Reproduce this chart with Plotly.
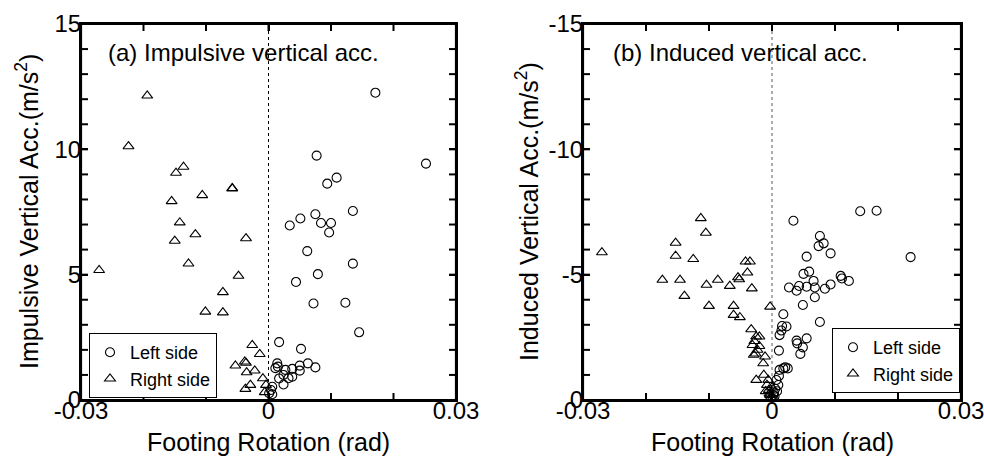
import plotly.graph_objects as go

# ---- data -------------------------------------------------------------
# (a) impulsive vertical acceleration vs footing rotation
a_left_rot = [0.0171, 0.0252, 0.0077, 0.0109, 0.0094, 0.0135, 0.0075, 0.0051, 0.0034,
              0.0084, 0.0100, 0.0097, 0.0062, 0.0135, 0.0079, 0.0044, 0.0072, 0.0123,
              0.0145, 0.0017, 0.0052, 0.0075, 0.0063, 0.0050, 0.0038, 0.0050, 0.0027,
              0.0014, 0.0015, 0.0011, 0.0024, 0.0038, 0.0032, 0.0017, 0.0024, 0.0006,
              0.0004, 0.0006, 0.0001]
a_left_acc = [12.26, 9.43, 9.75, 8.87, 8.63, 7.54, 7.41, 7.24, 6.96,
              7.06, 7.06, 6.68, 5.94, 5.44, 5.02, 4.71, 3.85, 3.88,
              2.70, 2.31, 2.04, 1.30, 1.46, 1.37, 1.24, 1.17, 1.20,
              1.46, 1.33, 1.27, 1.00, 0.93, 0.87, 0.86, 0.62, 0.53,
              0.40, 0.23, 0.27]
a_right_rot = [-0.0194, -0.0224, -0.0271, -0.0136, -0.0148, -0.0058, -0.0058, -0.0106,
               -0.0155, -0.0142, -0.0117, -0.0150, -0.0036, -0.0128, -0.0048, -0.0073,
               -0.0101, -0.0073, -0.0096, -0.0026, -0.0014, -0.0053, -0.0038, -0.0036,
               -0.0035, -0.0022, -0.0009, -0.0029, -0.0037, -0.0006, -0.0004]
a_right_acc = [12.14, 10.12, 5.18, 9.30, 9.06, 8.43, 8.45, 8.17,
               7.93, 7.08, 6.61, 6.35, 6.45, 5.44, 4.95, 4.30,
               3.52, 3.49, 1.99, 2.19, 1.83, 1.37, 1.53, 1.48,
               1.10, 1.17, 0.86, 0.60, 0.44, 0.31, 0.60]

# (b) induced vertical acceleration vs footing rotation
b_left_rot = [0.0220, 0.0140, 0.0166, 0.0034, 0.0076, 0.0082, 0.0074, 0.0093, 0.0055,
              0.0059, 0.0050, 0.0109, 0.0111, 0.0122, 0.0066, 0.0093, 0.0084, 0.0068,
              0.0055, 0.0043, 0.0027, 0.0039, 0.0068, 0.0049, 0.0076, 0.0018, 0.0016,
              0.0023, 0.0015, 0.0012, 0.0039, 0.0040, 0.0055, 0.0049, 0.0045, 0.0011,
              0.0018, 0.0025, 0.0021, 0.0012, 0.0011, 0.0007, 0.0010, 0.0005, 0.0003,
              0.0008, 0.0002, 0.0004, 0.0001]
b_left_acc = [-5.70, -7.53, -7.55, -7.15, -6.54, -6.25, -6.14, -5.85, -5.72,
              -5.12, -5.03, -4.95, -4.85, -4.75, -4.75, -4.61, -4.44, -4.49,
              -4.52, -4.55, -4.49, -4.36, -4.10, -3.79, -3.11, -3.42, -2.95,
              -2.93, -2.77, -2.59, -2.37, -2.26, -2.46, -2.10, -1.84, -1.97,
              -1.26, -1.26, -1.30, -1.20, -0.96, -0.80, -0.60, -0.45, -0.30,
              -0.35, -0.20, -0.15, -0.05]
b_right_rot = [-0.0270, -0.0113, -0.0105, -0.0153, -0.0153, -0.0125, -0.0174, -0.0146,
               -0.0139, -0.0104, -0.0086, -0.0100, -0.0067, -0.0054, -0.0052, -0.0042,
               -0.0035, -0.0039, -0.0032, -0.0003, -0.0061, -0.0061, -0.0051, -0.0033,
               -0.0025, -0.0020, -0.0031, -0.0020, -0.0029, -0.0011, -0.0014, -0.0025,
               -0.0013, -0.0028, -0.0023, -0.0026, -0.0008, -0.0005, -0.0003, -0.0006,
               0.0000, -0.0002, -0.0010, -0.0004]
b_right_acc = [-5.89, -7.25, -6.67, -6.27, -5.75, -5.62, -4.79, -4.79,
               -4.15, -4.59, -4.79, -3.75, -4.55, -4.89, -4.81, -5.52,
               -5.52, -5.08, -4.45, -3.72, -3.75, -3.39, -3.30, -2.82,
               -2.53, -2.53, -2.19, -2.15, -1.80, -1.73, -1.46, -0.80,
               -1.00, -2.35, -2.00, -1.85, -0.60, -0.40, -0.20, -0.80,
               -0.50, -0.10, -0.35, -0.25]

x_tickvals = [-0.03, 0, 0.03]
x_ticktext = ["-0.03", "0", "0.03"]
a_tickvals = [0, 5, 10, 15]
a_ticktext = ["0", "5", "10", "15"]
b_tickvals = [0, -5, -10, -15]
b_ticktext = ["0", "-5", "-10", "-15"]

# ---- styling ----------------------------------------------------------
W, H = 984, 456
FONT = "Liberation Sans, Arial, sans-serif"
TICK_LEN = 7
px_x = lambda p: p / W
px_y = lambda p: 1 - p / H

circle = dict(symbol="circle-open", size=9, color="black", line=dict(width=1.1))
triangle = dict(symbol="triangle-up-open", size=9.5, color="black", line=dict(width=1.1))

fig = go.Figure()
fig.add_trace(go.Scatter(x=a_left_rot, y=a_left_acc, mode="markers", marker=circle,
                         name="Left side", xaxis="x", yaxis="y", legend="legend"))
fig.add_trace(go.Scatter(x=a_right_rot, y=a_right_acc, mode="markers", marker=triangle,
                         name="Right side", xaxis="x", yaxis="y", legend="legend"))
fig.add_trace(go.Scatter(x=b_left_rot, y=b_left_acc, mode="markers", marker=circle,
                         name="Left side", xaxis="x2", yaxis="y2", legend="legend2"))
fig.add_trace(go.Scatter(x=b_right_rot, y=b_right_acc, mode="markers", marker=triangle,
                         name="Right side", xaxis="x2", yaxis="y2", legend="legend2"))

tick_style = dict(ticks="inside", ticklen=TICK_LEN, tickwidth=2, tickcolor="black")
frame = dict(showline=True, linewidth=2, linecolor="black", mirror="ticks",
             showgrid=False, zeroline=False, automargin=False,
             ticklabeloverflow="allow",
             tickfont=dict(family=FONT, size=24, color="black"), **tick_style)

y_dom = [px_y(400), px_y(24)]

fig.update_layout(
    template="none",
    width=W, height=H,
    margin=dict(l=0, r=0, t=0, b=0, autoexpand=False),
    paper_bgcolor="white", plot_bgcolor="white",
    font=dict(family=FONT, color="black"),
    xaxis=dict(frame, domain=[px_x(81), px_x(456)], range=[-0.03, 0.03],
               tickmode="array", tickvals=x_tickvals, ticktext=x_ticktext,
               ticklabelstandoff=-12, anchor="y"),
    yaxis=dict(frame, domain=y_dom, range=[0, 15],
               tickmode="array", tickvals=a_tickvals, ticktext=a_ticktext,
               ticklabelstandoff=-7, anchor="x"),
    xaxis2=dict(frame, domain=[px_x(583), px_x(961)], range=[-0.03, 0.03],
                tickmode="array", tickvals=x_tickvals, ticktext=x_ticktext,
                ticklabelstandoff=-12, anchor="y2"),
    yaxis2=dict(frame, domain=y_dom, range=[0, -15],
                tickmode="array", tickvals=b_tickvals, ticktext=b_ticktext,
                ticklabelstandoff=-7, anchor="x2"),
    legend=dict(x=px_x(89), y=px_y(333), xanchor="left", yanchor="top",
                bgcolor="white", bordercolor="black", borderwidth=1,
                font=dict(family=FONT, size=18, color="black"),
                itemwidth=30, tracegroupgap=0),
    legend2=dict(x=px_x(832), y=px_y(328), xanchor="left", yanchor="top",
                 bgcolor="white", bordercolor="black", borderwidth=1,
                 font=dict(family=FONT, size=18, color="black"),
                 itemwidth=30, tracegroupgap=0),
    showlegend=True,
)

# plot frames, inward tick marks on all four sides, zero-rotation guide lines
x_marks = [round(-0.03 + 0.01 * i, 3) for i in range(7)]
ya_marks = list(range(0, 16))
yb_marks = list(range(0, -16, -1))
tick_line = dict(color="black", width=2)

for xr, yr, y_marks in (("x", "y", ya_marks), ("x2", "y2", yb_marks)):
    fig.add_shape(type="rect", xref=f"{xr} domain", yref=f"{yr} domain",
                  x0=0, x1=1, y0=0, y1=1, line=dict(color="black", width=2.2),
                  layer="above")
    for v in x_marks:
        for anchor, sign in ((0, 1), (1, -1)):
            fig.add_shape(type="line", xref=xr, yref=f"{yr} domain",
                          ysizemode="pixel", yanchor=anchor,
                          x0=v, x1=v, y0=0, y1=sign * TICK_LEN, line=tick_line)
    for v in y_marks:
        for anchor, sign in ((0, 1), (1, -1)):
            fig.add_shape(type="line", xref=f"{xr} domain", yref=yr,
                          xsizemode="pixel", xanchor=anchor,
                          x0=0, x1=sign * TICK_LEN, y0=v, y1=v, line=tick_line)

fig.add_shape(type="line", xref="x", yref="y domain", x0=0, x1=0, y0=0, y1=1,
              line=dict(color="black", width=1, dash="dot"), layer="below")
fig.add_shape(type="line", xref="x2", yref="y2 domain", x0=0, x1=0, y0=0, y1=1,
              line=dict(color="#777777", width=1.2, dash="dot"), layer="below")

# panel captions and axis titles
ann = [
    dict(text="(a) Impulsive vertical acc.", x=px_x(106), y=px_y(53), size=24,
         xanchor="left", angle=0),
    dict(text="(b) Induced vertical acc.", x=px_x(611), y=px_y(53), size=24,
         xanchor="left", angle=0),
    dict(text="Footing Rotation (rad)", x=px_x(268), y=px_y(442), size=25,
         xanchor="center", angle=0),
    dict(text="Footing Rotation (rad)", x=px_x(772), y=px_y(442), size=25,
         xanchor="center", angle=0),
    dict(text="Impulsive Vertical Acc.(m/s<sup>2</sup>)", x=px_x(27), y=px_y(212), size=25,
         xanchor="center", angle=-90),
    dict(text="Induced Vertical Acc.(m/s<sup>2</sup>)", x=px_x(527), y=px_y(212), size=25,
         xanchor="center", angle=-90),
]
for a in ann:
    fig.add_annotation(text=a["text"], x=a["x"], y=a["y"], xref="paper", yref="paper",
                       xanchor=a["xanchor"], yanchor="middle", textangle=a["angle"],
                       showarrow=False, font=dict(family=FONT, size=a["size"], color="black"))

fig.write_html("out.html")
